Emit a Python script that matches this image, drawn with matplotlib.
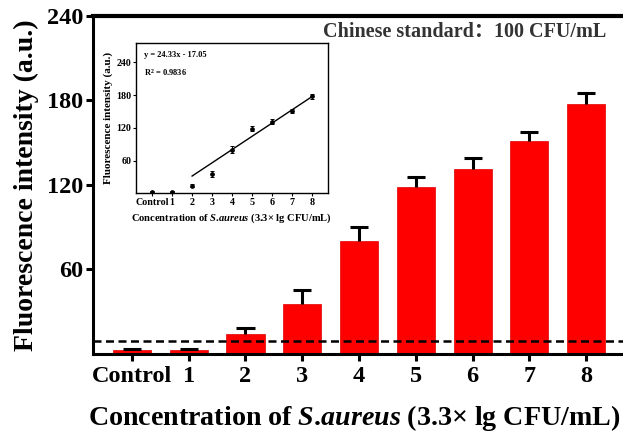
import numpy as np
import matplotlib
matplotlib.use('Agg')
import matplotlib.pyplot as plt

plt.rcParams['font.family'] = ['Liberation Serif', 'DejaVu Serif']
plt.rcParams['font.weight'] = 'bold'
plt.rcParams['mathtext.fontset'] = 'custom'
plt.rcParams['mathtext.rm'] = 'Liberation Serif:bold'
plt.rcParams['mathtext.it'] = 'Liberation Serif:bold:italic'

labels = ['Control', '1', '2', '3', '4', '5', '6', '7', '8']
intensity = [2.8, 2.8, 14.2, 35.6, 80.0, 118.6, 131.0, 150.9, 177.7]
err = [1.0, 1.0, 4.5, 10.0, 10.5, 7.0, 8.0, 7.0, 7.5]
threshold = 9.0

# inset: linear fit over levels 2..8
fit_x = [2, 8]
slope, intercept = 24.33, -17.05
r2 = 0.9836

xlab = r'Concentration of $S$.$aureus$ (3.3$\times$ lg CFU/mL)'

fig = plt.figure(figsize=(6.23, 4.37), dpi=100)
ax = fig.add_axes([0.1498, 0.190, 0.853, 0.7734])
x = np.arange(len(labels))
y = np.array(intensity)
e = np.array(err)
ax.bar(x, y, width=0.67, color='#ff0000', edgecolor='#e00000', linewidth=0.5, zorder=2)
# upper error bars only
ax.vlines(x, y, y + e, color='black', linewidth=2.2, zorder=3)
ax.hlines(y + e, x - 0.16, x + 0.16, color='black', linewidth=2.2, zorder=3)
ax.axhline(threshold, color='black', linestyle=(0, (3.2, 1.8)), linewidth=1.8, zorder=4)

ax.set_xlim(-0.68, 8.68)
ax.set_ylim(0, 240)
ax.set_yticks([60, 120, 180, 240])
ax.set_xticks(x)
ax.set_xticklabels(labels)
ax.tick_params(axis='both', labelsize=17.5, width=2.2, length=5, pad=2)
ax.tick_params(axis='x', pad=4)
for s in ['left', 'bottom']:
    ax.spines[s].set_linewidth(2.2)
ax.spines['top'].set_linewidth(3)
ax.spines['right'].set_visible(False)
ax.set_ylabel('Fluorescence intensity (a.u.)', fontsize=20, fontweight='bold', labelpad=6)
ax.set_xlabel(xlab, fontsize=20.2, fontweight='bold')
ax.xaxis.set_label_coords(0.4915, -0.145)

ax.text(0.433, 0.952, 'Chinese standard：100 CFU/mL', transform=ax.transAxes,
        fontsize=14.5, fontweight='bold', color='#333333',
        family=['Liberation Serif', 'Noto Sans CJK SC'], ha='left', va='center')

# inset with the linear fit
ins = fig.add_axes([0.2183, 0.5577, 0.3077, 0.3432])
ins.errorbar(x, y, yerr=e * 0.6, fmt='o', color='black', markersize=2.4,
             elinewidth=0.7, capsize=1.5, capthick=0.7, zorder=3)
fx = np.array(fit_x)
ins.plot(fx, slope * fx + intercept, color='black', linewidth=1.0)
ins.set_xlim(-0.8, 8.77)
ins.set_ylim(0, 275)
ins.set_yticks([60, 120, 180, 240])
ins.set_xticks(x)
ins.set_xticklabels(labels)
ins.tick_params(axis='both', labelsize=7.2, width=0.8, length=2, pad=1.5)
for s in ins.spines.values():
    s.set_linewidth(1.0)
ins.set_ylabel('Fluorescence intensity (a.u.)', fontsize=8, fontweight='bold', labelpad=2)
ins.set_xlabel(xlab, fontsize=7.6, fontweight='bold', labelpad=3)
ins.text(0.04, 0.95, 'y = 24.33x - 17.05', transform=ins.transAxes, fontsize=6,
         fontweight='bold', va='top')
ins.text(0.04, 0.84, r'R$^2$ = %.4f' % r2, transform=ins.transAxes, fontsize=6,
         fontweight='bold', va='top')

fig.savefig('out.png', dpi=100)
